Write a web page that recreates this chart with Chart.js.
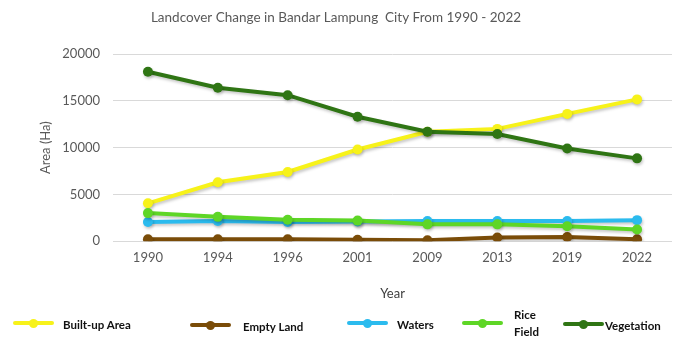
<!DOCTYPE html>
<html>
<head>
<meta charset="utf-8">
<script src="https://cdn.jsdelivr.net/npm/chart.js@4.4.0/dist/chart.umd.min.js"></script>
<style>
  html, body { margin:0; padding:0; background:#fff; }
  #wrap { position:relative; width:682px; height:337px; }
  #legend { position:absolute; left:0; top:0; width:682px; height:337px; pointer-events:none;
            font-family:Lato, "Open Sans", sans-serif; font-weight:bold; font-size:11.5px; color:#111; }
  .sym { position:absolute; height:4px; border-radius:2px; }
  .sym span { position:absolute; left:50%; top:50%; width:9px; height:9px; margin:-4.5px 0 0 -4.5px; border-radius:50%; }
  .lbl { position:absolute; line-height:17px; white-space:nowrap; }
</style>
</head>
<body>
<div id="wrap">
  <canvas id="landChart" width="682" height="337"></canvas>
  <div id="legend"></div>
</div>
<script>
const years = ['1990','1994','1996','2001','2009','2013','2019','2022'];
const builtUp    = [4050, 6300, 7400, 9800, 11700, 12000, 13600, 15150];
const emptyLand  = [200, 200, 200, 150, 100, 400, 450, 200];
const waters     = [2050, 2150, 2050, 2100, 2150, 2150, 2150, 2250];
const riceField  = [3000, 2600, 2300, 2200, 1800, 1800, 1600, 1250];
const vegetation = [18100, 16400, 15600, 13300, 11700, 11450, 9900, 8850];
const yTicks = [0, 5000, 10000, 15000, 20000];

function ds(label, data, color, order){
    return { label:label, data:data, borderColor:color, backgroundColor:color,
             pointBackgroundColor:color, pointBorderColor:color, pointBorderWidth:0,
             borderWidth:4, pointRadius:5, pointHoverRadius:5, tension:0, fill:false, order:order };
}

// soft shadow under the lines, like the original
const shadow = {
    id:'shadow',
    beforeDatasetsDraw(chart){
        const c = chart.ctx;
        c.save();
        c.shadowColor = 'rgba(0,0,0,0.22)';
        c.shadowBlur = 3;
        c.shadowOffsetX = 1;
        c.shadowOffsetY = 2;
    },
    afterDatasetsDraw(chart){ chart.ctx.restore(); }
};

const chart = new Chart(document.getElementById('landChart'), {
    type:'line',
    data:{
        labels:years,
        datasets:[
            ds('Built-up Area', builtUp, '#f7f21a', 2),
            ds('Empty Land', emptyLand, '#7a4c08', 4),
            ds('Waters', waters, '#2bbbee', 3),
            ds('Rice Field', riceField, '#5ed626', 1),
            ds('Vegetation', vegetation, '#2f7514', 0)
        ]
    },
    options:{
        responsive:false,
        animation:false,
        layout:{ padding:{ left:0, right:10, top:0, bottom:35 } },
        plugins:{
            legend:{ display:false },
            tooltip:{ enabled:false },
            title:{
                display:true,
                text:'Landcover Change in Bandar Lampung  City From 1990 - 2022',
                color:'#595959',
                font:{ family:'Lato', size:13.5, weight:'normal' },
                padding:{ top:10, bottom:27.8 }
            }
        },
        scales:{
            x:{
                offset:true,
                grid:{ display:false, drawTicks:false },
                border:{ display:false },
                ticks:{ color:'#595959', font:{ family:'Lato', size:13 }, padding:9, maxRotation:0 },
                title:{ display:true, text:'Year', color:'#404040', font:{ family:'Lato', size:13 }, padding:{ top:11.6, bottom:0 } }
            },
            y:{
                min:0,
                max:20000,
                afterFit(scale){ scale.width = 113; },
                afterBuildTicks(scale){ scale.ticks = yTicks.map(v => ({ value:v })); },
                grid:{ color:'#d9d9d9', lineWidth:1, drawTicks:false },
                border:{ display:false },
                ticks:{ color:'#595959', font:{ family:'Lato', size:13 }, padding:13, callback:v => String(v) },
                title:{ display:true, text:'Area (Ha)', color:'#595959', font:{ family:'Lato', size:13 }, padding:{ top:38.2, bottom:0 } }
            }
        }
    },
    plugins:[shadow]
});

// legend laid out like the original figure
const legendPos = [
    { line:13,  text:63,  y:323 },
    { line:190, text:243, y:325 },
    { line:347, text:397, y:323 },
    { line:462, text:514, y:323, lines:['Rice','Field'] },
    { line:563, text:605, y:324 }
];
const leg = document.getElementById('legend');
chart.data.datasets.forEach((d, i) => {
    const p = legendPos[i];
    const s = document.createElement('div');
    s.className = 'sym';
    s.style.left = p.line + 'px';
    s.style.width = '41px';
    s.style.top = (p.y - 2) + 'px';
    s.style.background = d.borderColor;
    const dot = document.createElement('span');
    dot.style.background = d.borderColor;
    s.appendChild(dot);
    leg.appendChild(s);
    if (p.lines) {
        p.lines.forEach((t, k) => {
            const l = document.createElement('div');
            l.className = 'lbl';
            l.textContent = t;
            l.style.left = p.text + 'px';
            l.style.top = (p.y - 17 + k * 17) + 'px';
            leg.appendChild(l);
        });
    } else {
        const l = document.createElement('div');
        l.className = 'lbl';
        l.textContent = d.label;
        l.style.left = p.text + 'px';
        l.style.top = (p.y + 1 - 8.5) + 'px';
        leg.appendChild(l);
    }
});
</script>
</body>
</html>
